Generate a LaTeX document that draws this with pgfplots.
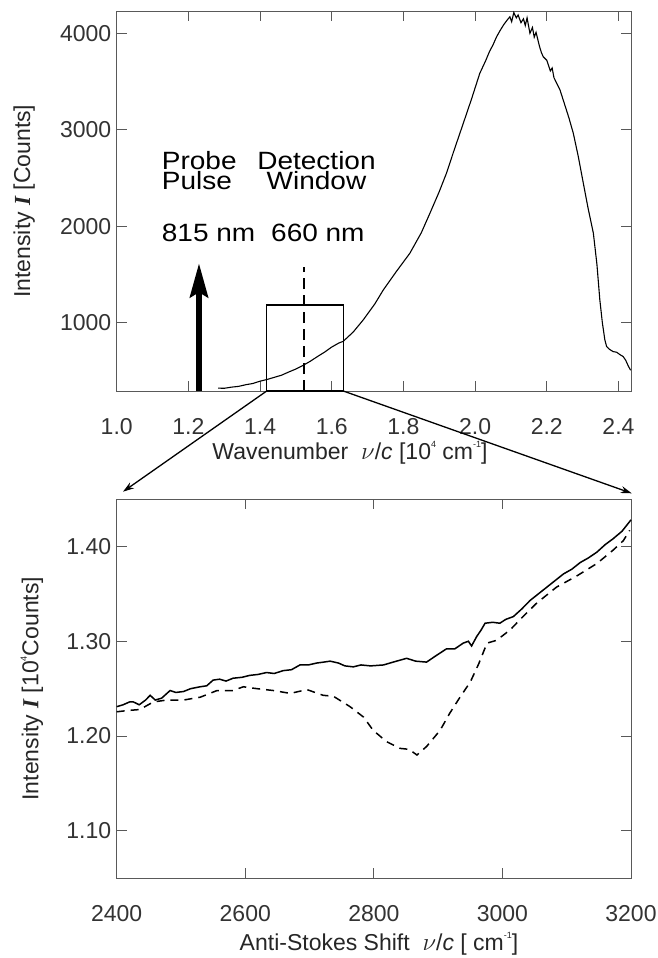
\documentclass[border=0pt]{standalone}
\usepackage{pgfplots}
\pgfplotsset{compat=1.18}
\usepackage{fontspec}
\setmainfont{Liberation Sans}
\newfontfamily\timesfont{Liberation Serif}
\usetikzlibrary{arrows.meta}
\newcommand{\Ibf}{{\timesfont\bfseries\itshape I}}
\newcommand{\nuc}{$\nu$/\textit{c}}
\newcommand{\sups}[1]{\raisebox{0.5em}{\fontsize{9pt}{9pt}\selectfont #1}}
\newcommand{\tfont}{\fontsize{23pt}{23pt}\selectfont}
\newcommand{\afont}{\fontsize{25pt}{20pt}\selectfont}
\newcommand{\wide}[1]{\scalebox{1.12}[1]{#1}}
\pgfplotsset{
  myaxis/.style={
    scale only axis, clip=false,
    axis line style={black!65, line width=1pt},
    every tick/.style={black!65, line width=1pt},
    major tick length=10pt,
    tick align=inside,
    /pgf/number format/assume math mode=true,
    tick label style={font=\tfont, text=black!80},
    xticklabel style={font=\tfont, yshift=-24pt},
    yticklabel style={font=\tfont, xshift=-2pt},
    every axis label/.append style={font=\tfont, text=black!85},
  }
}
\begin{document}
\begin{tikzpicture}
\useasboundingbox (0pt,0pt) rectangle (658pt,-958pt);
\begin{axis}[myaxis,
  at={(116.7pt,-11.3pt)}, anchor=north west,
  width=514.3pt, height=379.7pt,
  xmin=1.0, xmax=2.435, ymin=290, ymax=4228,
  xtick={1.0,1.2,1.4,1.6,1.8,2.0,2.2,2.4},
  ytick={1000,2000,3000,4000},
  xticklabel style={/pgf/number format/.cd, fixed, fixed zerofill, precision=1},
  yticklabel style={/pgf/number format/1000 sep={}},
  xlabel={Wavenumber\ \ \nuc\ [10\sups{4} cm\sups{-1}]},
  xlabel style={at={(axis description cs:0.4536,-0.163)}, anchor=center},
  ylabel={Intensity \Ibf\ [Counts]},
  ylabel style={at={(axis description cs:-0.18,0.5)}, anchor=center},
]
\addplot[black, line width=1.1pt] coordinates {
(1.283,320) (1.30,318) (1.32,330) (1.34,338) (1.36,355) (1.38,368) (1.40,392)
(1.42,410) (1.44,432) (1.46,454) (1.48,487) (1.50,518) (1.52,556) (1.54,598)
(1.56,647) (1.58,693) (1.60,746) (1.62,788) (1.632,805) (1.66,902) (1.688,1028)
(1.72,1192) (1.744,1339) (1.78,1528) (1.818,1719) (1.85,1932) (1.874,2134)
(1.90,2358) (1.92,2548) (1.94,2772) (1.967,3066) (1.99,3318) (2.013,3584)
(2.03,3720) (2.04,3810) (2.05,3880) (2.06,3964) (2.07,4030) (2.08,4090)
(2.09,4140) (2.097,4171) (2.102,4120) (2.108,4215) (2.115,4160) (2.12,4190)
(2.128,4110) (2.135,4150) (2.14,4080) (2.145,4160) (2.153,4000) (2.16,4060)
(2.165,3960) (2.17,4010) (2.18,3860) (2.185,3800) (2.19,3757) (2.20,3720)
(2.21,3610) (2.215,3640) (2.22,3540) (2.237,3411) (2.25,3260) (2.262,3120)
(2.274,2963) (2.288,2720) (2.302,2444) (2.315,2190) (2.330,1926) (2.340,1600)
(2.348,1235) (2.355,1000) (2.362,820) (2.367,751) (2.375,722) (2.385,699)
(2.395,692) (2.405,665) (2.413,648) (2.42,610) (2.428,545) (2.434,505)
};
% detection window box
\draw[black, line width=1.3pt] (axis cs:1.418,290) rectangle (axis cs:1.632,1183);
% dashed detection line
\draw[black, line width=2pt, dash pattern=on 11pt off 6pt] (axis cs:1.523,290) -- (axis cs:1.523,1580);
% probe arrow
\draw[black, line width=6pt, -{Stealth[length=34pt, width=18pt, inset=5pt]}] (axis cs:1.2296,290) -- (axis cs:1.2296,1615);
\end{axis}
\node[anchor=base west, inner sep=0pt, font=\afont, align=left] at (161.7pt,-189.3pt) {\wide{Probe}\\\wide{Pulse}};
\node[anchor=base, inner sep=0pt, font=\afont, align=center] at (316.5pt,-189.3pt) {\wide{Detection}\\\wide{Window}};
\node[anchor=base west, inner sep=0pt, font=\afont] at (161.7pt,-241.7pt) {\wide{815 nm}};
\node[anchor=base west, inner sep=0pt, font=\afont] at (271pt,-241.7pt) {\wide{660 nm}};
\begin{axis}[myaxis,
  at={(116.7pt,-499pt)}, anchor=north west,
  width=514.3pt, height=379.3pt,
  xmin=2400, xmax=3200, ymin=1.05, ymax=1.45,
  xtick={2400,2600,2800,3000,3200},
  ytick={1.10,1.20,1.30,1.40},
  xticklabel style={/pgf/number format/1000 sep={}},
  yticklabel style={/pgf/number format/.cd, fixed, fixed zerofill, precision=2},
  xlabel={Anti-Stokes Shift\ \ \nuc\ [ cm\sups{-1}]},
  xlabel style={at={(axis description cs:0.51,-0.173)}, anchor=center},
  ylabel={Intensity \Ibf\ [10\sups{4}Counts]},
  ylabel style={at={(axis description cs:-0.1647,0.5)}, anchor=center},
]
\addplot[black, line width=1.5pt] coordinates {
(2400,1.231) (2410,1.233) (2420,1.236) (2426,1.236) (2435,1.233) (2445,1.238)
(2452,1.243) (2460,1.238) (2470,1.240) (2483,1.248) (2492,1.246) (2504,1.247)
(2515,1.250) (2530,1.252) (2540,1.253) (2550,1.259) (2560,1.260) (2570,1.258)
(2581,1.261) (2595,1.262) (2607,1.264) (2620,1.265) (2633,1.267) (2645,1.266)
(2659,1.269) (2672,1.270) (2685,1.275) (2698,1.275) (2711,1.277) (2722,1.278)
(2732,1.279) (2745,1.277) (2755,1.274) (2768,1.273) (2780,1.275) (2795,1.274)
(2815,1.275) (2830,1.278) (2851,1.282) (2865,1.279) (2882,1.278) (2895,1.284)
(2913,1.292) (2926,1.292) (2939,1.298) (2947,1.300) (2952,1.295) (2960,1.305)
(2967,1.312) (2973,1.319) (2985,1.320) (2996,1.319) (3005,1.323) (3017,1.326)
(3030,1.334) (3043,1.343) (3056,1.350) (3069,1.357) (3082,1.364) (3095,1.371)
(3108,1.376) (3121,1.383) (3134,1.388) (3147,1.394) (3160,1.402) (3172,1.408)
(3186,1.416) (3200,1.428)
};
\addplot[black, line width=1.5pt, dash pattern=on 8pt off 6pt] coordinates {
(2400,1.2256) (2418,1.227) (2436,1.228) (2457,1.236) (2478,1.238) (2504,1.238)
(2530,1.241) (2556,1.248) (2581,1.248) (2597,1.252) (2618,1.250) (2644,1.248)
(2670,1.245) (2696,1.249) (2721,1.243) (2737,1.242) (2763,1.231) (2784,1.220)
(2799,1.206) (2820,1.194) (2841,1.187) (2855,1.186) (2867,1.180) (2882,1.189)
(2903,1.206) (2918,1.224) (2934,1.241) (2950,1.257) (2963,1.276) (2976,1.298)
(2991,1.301) (3012,1.312) (3032,1.326) (3053,1.340) (3084,1.357) (3116,1.369)
(3147,1.382) (3172,1.396) (3188,1.406) (3198,1.417)
};
\end{axis}
% connector arrows from the detection window to the zoomed panel
\draw[black, line width=1.3pt, -{Stealth[length=11pt, width=7pt]}] (266.7pt,-391pt) -- (123pt,-491.7pt);
\draw[black, line width=1.3pt, -{Stealth[length=11pt, width=7pt]}] (343.3pt,-391pt) -- (631.7pt,-493.3pt);
\end{tikzpicture}
\end{document}
